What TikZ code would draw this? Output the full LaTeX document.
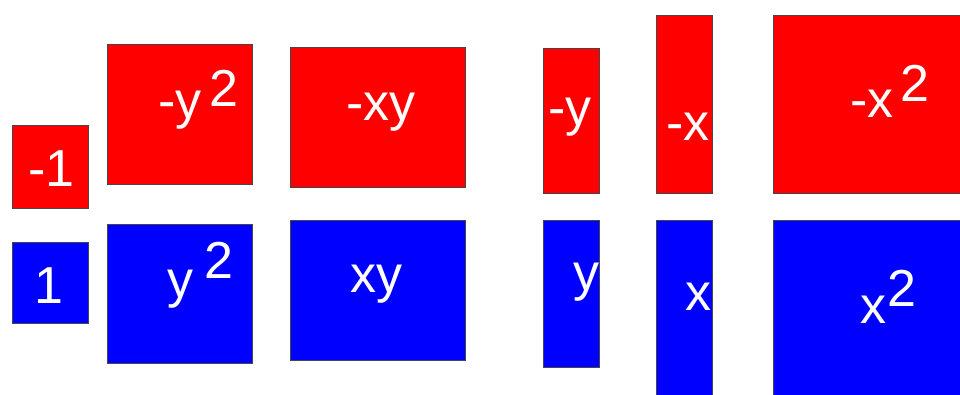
\documentclass[tikz,border=0pt]{standalone}
\usepackage{fontspec}
\setmainfont{Liberation Sans}
\definecolor{tilered}{RGB}{255,0,0}
\definecolor{tileblue}{RGB}{0,0,255}
\definecolor{tileedge}{RGB}{70,70,70}
\begin{document}
\begin{tikzpicture}[x=1pt,y=-1pt,
  tile/.style={draw=tileedge, line width=1pt, inner sep=0pt, outer sep=0pt, anchor=north west},
  negtile/.style={tile, fill=tilered},
  postile/.style={tile, fill=tileblue},
  lbl/.style={text=white, inner sep=0pt, anchor=base west, font=\fontsize{52}{62}\selectfont}]
\useasboundingbox (0,0) rectangle (960,394);
\clip (0,0) rectangle (960,394);
% red (negative) tiles
\node[negtile, minimum width=76pt, minimum height=83pt] (tm1) at (12,125) {};
\node[negtile, minimum width=145pt, minimum height=140pt] (tmy2) at (107,44) {};
\node[negtile, minimum width=175pt, minimum height=140pt] (tmxy) at (290,47) {};
\node[negtile, minimum width=56pt, minimum height=145pt] (tmy) at (543,48) {};
\node[negtile, minimum width=56pt, minimum height=178pt] (tmx) at (656,15) {};
\node[negtile, minimum width=200pt, minimum height=178pt] (tmx2) at (773,15) {};
% blue (positive) tiles
\node[postile, minimum width=76pt, minimum height=81pt] (tp1) at (12,242) {};
\node[postile, minimum width=145pt, minimum height=139pt] (tpy2) at (107,224) {};
\node[postile, minimum width=175pt, minimum height=140pt] (tpxy) at (290,220) {};
\node[postile, minimum width=56pt, minimum height=147pt] (tpy) at (543,220) {};
\node[postile, minimum width=56pt, minimum height=200pt] (tpx) at (656,220) {};
\node[postile, minimum width=200pt, minimum height=200pt] (tpx2) at (773,220) {};
% labels
\node[lbl] (lm1) at (28,186) {-1};
\node[lbl] (lp1) at (34,303) {1};
\node[lbl] (lmy2) at (158,118) {-y};
\node[lbl] (lmy2e) at (209,106) {2};
\node[lbl] (lpy2) at (167,297) {y};
\node[lbl] (lpy2e) at (204,278) {2};
\node[lbl] (lmxy) at (346,120) {-xy};
\node[lbl] (lpxy) at (350,292) {xy};
\node[lbl] (lmy) at (548,125) {-y};
\node[lbl] (lpy) at (573,290) {y};
\begin{scope}
\clip (656,15) rectangle (712,193);
\node[lbl] (lmx) at (666,140) {-x};
\end{scope}
\node[lbl] (lpx) at (685,310) {x};
\node[lbl] (lmx2) at (850,117) {-x};
\node[lbl] (lmx2e) at (900,101) {2};
\node[lbl] (lpx2) at (860,323) {x};
\node[lbl] (lpx2e) at (887,306) {2};
\end{tikzpicture}
\end{document}
